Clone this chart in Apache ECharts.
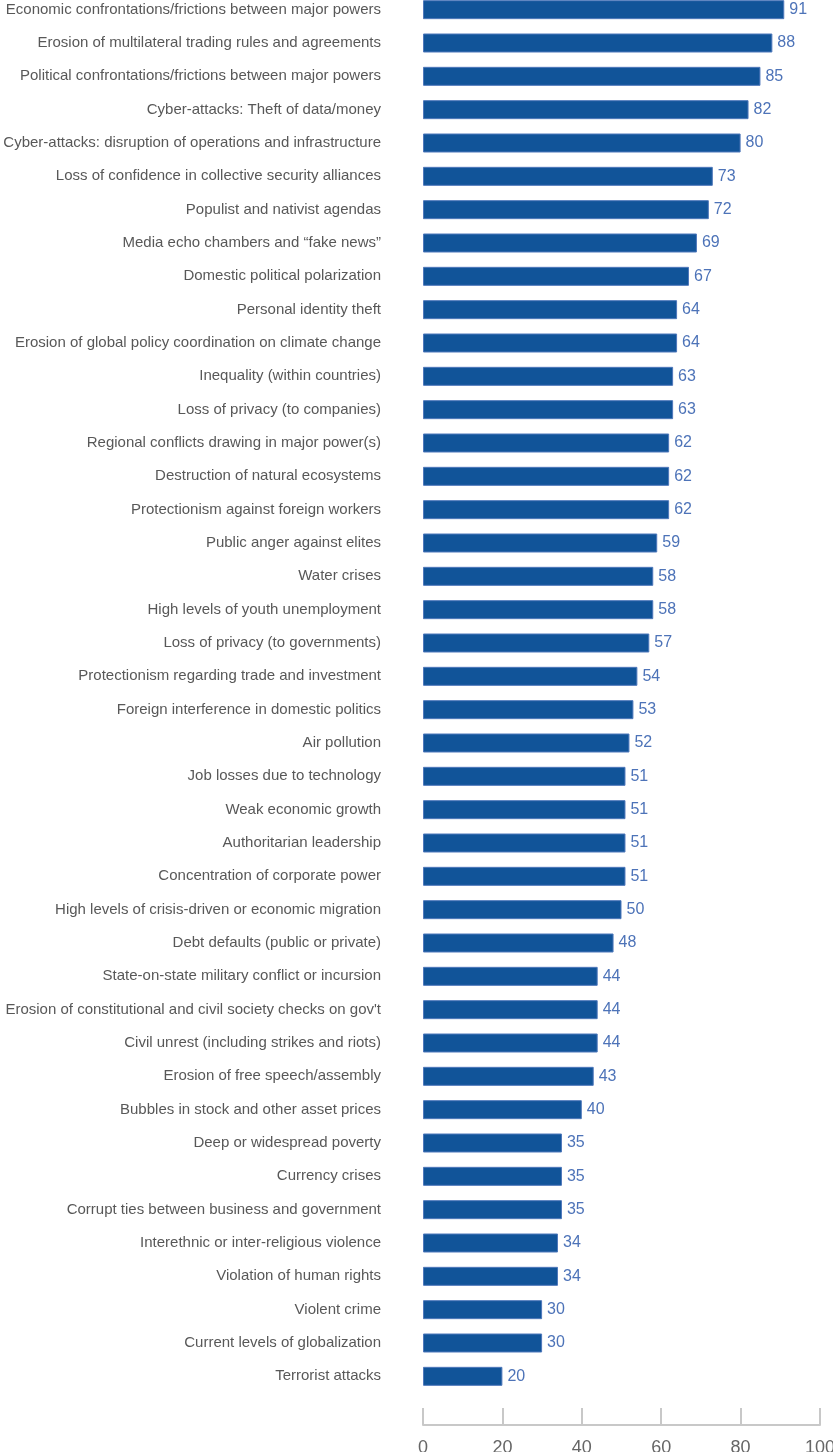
<!DOCTYPE html>
<html>
<head>
<meta charset="utf-8">
<script src="https://cdn.jsdelivr.net/npm/echarts@6/dist/echarts.min.js"></script>
<style>
html,body{margin:0;padding:0;background:#fff;overflow:hidden;}
#c{position:absolute;left:0;top:-7px;width:833px;height:1459px;}
</style>
</head>
<body>
<div id="c"></div>
<script>
const categories = [
"Economic confrontations/frictions between major powers",
"Erosion of multilateral trading rules and agreements",
"Political confrontations/frictions between major powers",
"Cyber-attacks: Theft of data/money",
"Cyber-attacks: disruption of operations and infrastructure",
"Loss of confidence in collective security alliances",
"Populist and nativist agendas",
"Media echo chambers and \u201cfake news\u201d",
"Domestic political polarization",
"Personal identity theft",
"Erosion of global policy coordination on climate change",
"Inequality (within countries)",
"Loss of privacy (to companies)",
"Regional conflicts drawing in major power(s)",
"Destruction of natural ecosystems",
"Protectionism against foreign workers",
"Public anger against elites",
"Water crises",
"High levels of youth unemployment",
"Loss of privacy (to governments)",
"Protectionism regarding trade and investment",
"Foreign interference in domestic politics",
"Air pollution",
"Job losses due to technology",
"Weak economic growth",
"Authoritarian leadership",
"Concentration of corporate power",
"High levels of crisis-driven or economic migration",
"Debt defaults (public or private)",
"State-on-state military conflict or incursion",
"Erosion of constitutional and civil society checks on gov't",
"Civil unrest (including strikes and riots)",
"Erosion of free speech/assembly",
"Bubbles in stock and other asset prices",
"Deep or widespread poverty",
"Currency crises",
"Corrupt ties between business and government",
"Interethnic or inter-religious violence",
"Violation of human rights",
"Violent crime",
"Current levels of globalization",
"Terrorist attacks"
];
const values = [91,88,85,82,80,73,72,69,67,64,64,63,63,62,62,62,59,58,58,57,54,53,52,51,51,51,51,50,48,44,44,44,43,40,35,35,35,34,34,30,30,20];
const xTicks = [0,20,40,60,80,100];

const chart = echarts.init(document.getElementById('c'), null, {renderer:'canvas', width:833, height:1459});
const font = "'Liberation Sans', Arial, Helvetica, sans-serif";
chart.setOption({
  animation:false,
  textStyle:{fontFamily:font},
  grid:{left:423, right:13, top:0, bottom:59, containLabel:false, outerBoundsMode:'none'},
  xAxis:{
    type:'value', min:xTicks[0], max:xTicks[xTicks.length-1], interval:20,
    offset:32,
    axisLine:{show:true, lineStyle:{color:'#c8c8c8', width:2}},
    axisTick:{show:true, inside:true, length:17, lineStyle:{color:'#c8c8c8', width:2}},
    splitLine:{show:false},
    axisLabel:{color:'#666', fontSize:18, margin:14, fontFamily:font, hideOverlap:false}
  },
  yAxis:{
    type:'category', data:categories, inverse:true,
    axisLine:{show:false}, axisTick:{show:false},
    axisLabel:{color:'#585858', fontSize:15, margin:42, fontFamily:font}
  },
  series:[{
    type:'bar', data:values, barWidth:19,
    itemStyle:{color:'#115499', borderColor:'#4f78bb', borderWidth:1},
    label:{show:true, position:'right', distance:5, color:'#4d73b8', fontSize:16, fontFamily:font}
  }]
});
</script>
</body>
</html>
